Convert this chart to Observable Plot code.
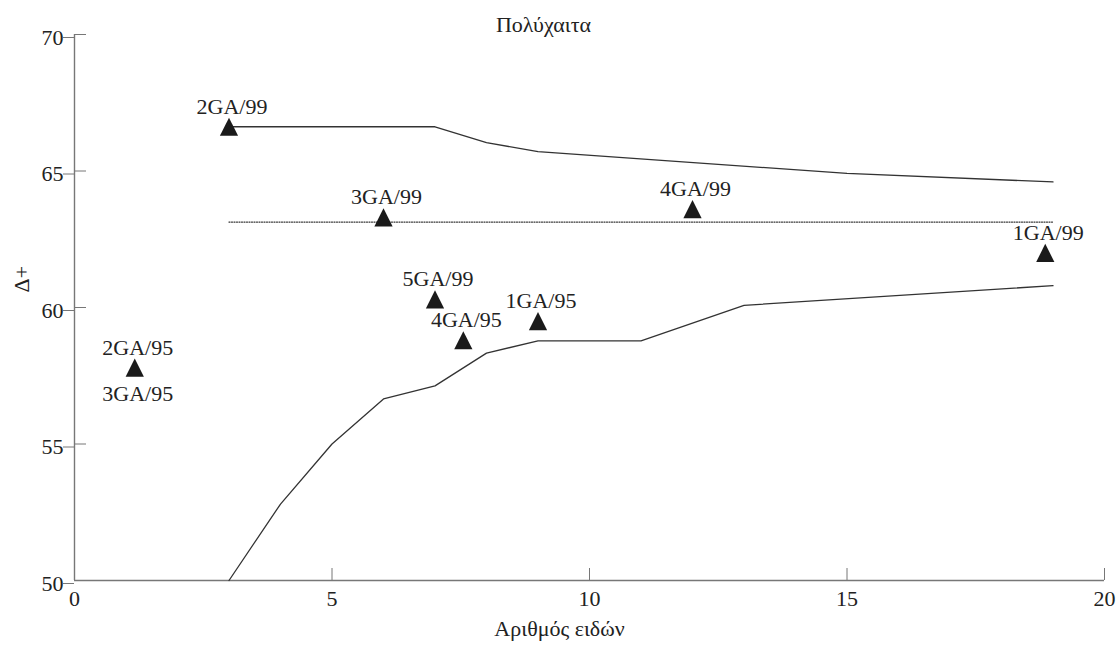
<!DOCTYPE html>
<html><head><meta charset="utf-8">
<script src="https://cdn.jsdelivr.net/npm/d3@7"></script>
<script src="https://cdn.jsdelivr.net/npm/@observablehq/plot@0.6"></script>
<style>body{margin:0;background:#fff}</style>
</head><body><div id="chart"></div>
<script>
// Samples (triangles)
const sampleNames   = ["2GA/99","3GA/99","4GA/99","1GA/99","5GA/99","4GA/95","1GA/95","2GA/95"];
const sampleSpecies = [3, 6, 12, 18.85, 7, 7.55, 9, 1.17];
const sampleDelta   = [66.62, 63.3, 63.6, 62.0, 60.3, 58.8, 59.5, 57.8];
// Sample labelled below its triangle (same position as 2GA/95)
const belowNames   = ["3GA/95"];
const belowSpecies = [1.17];
const belowDelta   = [57.8];
// Upper 95% probability funnel
const upperX = [3, 7, 8, 9, 15, 19];
const upperY = [66.62, 66.62, 66.04, 65.71, 64.91, 64.6];
// Lower 95% probability funnel
const lowerX = [3, 4, 5, 6, 7, 8, 9, 11, 13, 19];
const lowerY = [50, 52.8, 55.0, 56.65, 57.13, 58.33, 58.78, 58.78, 60.08, 60.8];
// Mean Δ+
const meanX = [3, 19];
const meanY = [63.13, 63.13];
// Ticks
const xTicks = [0, 5, 10, 15, 20];
const yTicks = [50, 55, 60, 65, 70];
const title = "Πολύχαιτα";
const xLabel = "Αριθμός ειδών";
const yLabel = "Δ+";

const samples = sampleNames.map((n, i) => ({name: n, x: sampleSpecies[i], y: sampleDelta[i]}));
const below = belowNames.map((n, i) => ({name: n, x: belowSpecies[i], y: belowDelta[i]}));
const upper = upperX.map((x, i) => ({x, y: upperY[i]}));
const lower = lowerX.map((x, i) => ({x, y: lowerY[i]}));
const mean = meanX.map((x, i) => ({x, y: meanY[i]}));

const tri = {
  draw(ctx, size) {
    const r = Math.sqrt(size / Math.PI) * 1.3;
    ctx.moveTo(0, -r);
    ctx.lineTo(r, r);
    ctx.lineTo(-r, r);
    ctx.closePath();
  }
};

const axisColor = "#777";
const font = "'Liberation Serif', 'Times New Roman', serif";

const chart = Plot.plot({
  width: 1120,
  height: 648,
  marginLeft: 74,
  marginRight: 16,
  marginTop: 34,
  marginBottom: 68,
  style: {fontFamily: font, fontSize: "22px", color: "#222", background: "#fff"},
  x: {domain: [0, 20], label: null},
  y: {domain: [50, 70], label: null},
  marks: [
    Plot.ruleX([0], {y1: 50, y2: 70, stroke: axisColor, strokeWidth: 1.4}),
    Plot.ruleY([50], {x1: 0, x2: 20, stroke: axisColor, strokeWidth: 1.4}),
    Plot.axisY({ticks: yTicks, tickSize: 11, tickPadding: 0, stroke: axisColor, dy: 3, fontSize: 22, label: null}),
    Plot.axisY({ticks: yTicks, tickSize: -12, text: null, stroke: axisColor, label: null}),
    Plot.axisX({ticks: xTicks, tickSize: -12, text: null, stroke: axisColor, label: null}),
    Plot.axisX({ticks: xTicks, tickSize: 0, tickPadding: 10, fontSize: 22, label: null}),
    Plot.line(upper, {x: "x", y: "y", stroke: "#333", strokeWidth: 1.3}),
    Plot.line(lower, {x: "x", y: "y", stroke: "#333", strokeWidth: 1.3}),
    Plot.line(mean, {x: "x", y: "y", stroke: "#333", strokeWidth: 1.3, strokeDasharray: "1,1.5"}),
    Plot.dot(samples, {x: "x", y: "y", symbol: tri, r: 7, fill: "#1a1a1a", stroke: "none"}),
    Plot.text(samples, {x: "x", y: "y", text: "name", dx: 3, dy: -20, fontSize: 22, fill: "#222"}),
    Plot.text(below, {x: "x", y: "y", text: "name", dx: 3, dy: 26, fontSize: 22, fill: "#222"}),
    Plot.text([title], {frameAnchor: "top", dx: -46, dy: -18, fontSize: 22, fill: "#222"}),
    Plot.text([xLabel], {frameAnchor: "bottom", dx: -30, dy: 55, fontSize: 22, fill: "#222"}),
    Plot.text([yLabel], {frameAnchor: "left", dx: -53, dy: -15, rotate: -90, fontSize: 22, fill: "#222"})
  ]
});
document.getElementById("chart").appendChild(chart);
</script>
</body></html>
